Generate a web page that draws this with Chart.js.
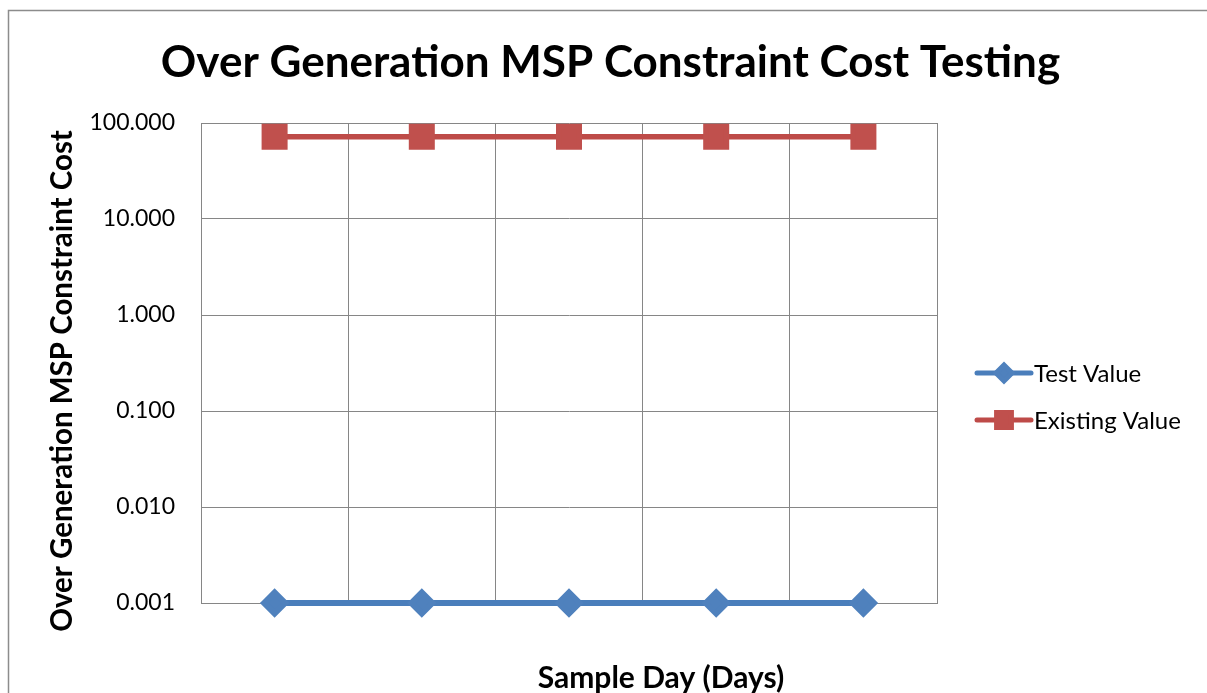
<!DOCTYPE html>
<html>
<head>
<meta charset="utf-8">
<script src="https://cdn.jsdelivr.net/npm/chart.js@4.4.0/dist/chart.umd.min.js"></script>
<style>
    html, body { margin: 0; padding: 0; background: #fff; }
    canvas { display: block; }
</style>
</head>
<body>
<canvas id="chart" width="1207" height="693"></canvas>
<script>
// values
const sampleDays = ['1', '2', '3', '4', '5']
const testValue = [0.001, 0.001, 0.001, 0.001, 0.001]
const existingValue = [72, 72, 72, 72, 72]
const yTicks = [0.001, 0.01, 0.1, 1, 10, 100]

const chartTitle = 'Over Generation MSP Constraint Cost Testing'
const xTitle = 'Sample Day (Days)'
const yTitle = 'Over Generation MSP Constraint Cost'

const gridColor = '#868686'
const fontFamily = 'Lato, "Open Sans", sans-serif'

// white background and the outer frame Excel draws round the chart
const frame = {
    id: 'frame',
    beforeDraw(chart) {
        const ctx = chart.ctx
        ctx.save()
        ctx.fillStyle = '#fff'
        ctx.fillRect(0, 0, chart.width, chart.height)
        ctx.strokeStyle = '#8c8c8c'
        ctx.lineWidth = 1.5
        ctx.strokeRect(8.5, 10.5, chart.width + 20, chart.height + 20)
        ctx.restore()
    }
}

// Excel places its titles against the whole chart box, not the plot area
const titles = {
    id: 'titles',
    afterDraw(chart) {
        const ctx = chart.ctx
        const area = chart.chartArea
        ctx.save()
        ctx.fillStyle = '#000'
        ctx.textAlign = 'center'
        ctx.textBaseline = 'middle'

        ctx.font = 'bold 44px ' + fontFamily
        ctx.fillText(chartTitle, chart.width / 2 + 7, 63)

        ctx.font = 'bold 30px ' + fontFamily
        ctx.fillText(xTitle, (area.left + area.right) / 2 + 92, area.bottom + 75)

        ctx.translate(62, (area.top + area.bottom) / 2 + 18)
        ctx.rotate(-Math.PI / 2)
        ctx.font = 'bold 29.5px ' + fontFamily
        ctx.fillText(yTitle, 0, 0)
        ctx.restore()
    }
}

// legend on the right: line with the marker in the middle, like Excel
const sideLegend = {
    id: 'sideLegend',
    afterDraw(chart) {
        const ctx = chart.ctx
        const area = chart.chartArea
        const cy = (area.top + area.bottom) / 2
        ctx.save()
        chart.data.datasets.forEach(function (ds, i) {
            const y = cy + 10 + i * 47
            const x0 = area.right + 40
            const x1 = area.right + 94
            ctx.strokeStyle = ds.borderColor
            ctx.lineWidth = 5
            ctx.lineCap = 'round'
            ctx.beginPath()
            ctx.moveTo(x0, y)
            ctx.lineTo(x1, y)
            ctx.stroke()
            ctx.fillStyle = ds.pointBackgroundColor
            ctx.strokeStyle = ds.pointBorderColor
            Chart.helpers.drawPoint(ctx, {
                pointStyle: ds.pointStyle,
                radius: ds.legendRadius,
                rotation: 0,
                borderWidth: 1
            }, (x0 + x1) / 2, y)
            ctx.fillStyle = '#000'
            ctx.font = '24px ' + fontFamily
            ctx.textBaseline = 'middle'
            ctx.textAlign = 'left'
            ctx.fillText(ds.label, x1 + 3, y + 1)
        })
        ctx.restore()
    }
}

new Chart(document.getElementById('chart'), {
    type: 'line',
    data: {
        labels: sampleDays,
        datasets: [{
            label: 'Test Value',
            data: testValue,
            clip: false,
            borderColor: '#4a7ebb',
            backgroundColor: '#4a7ebb',
            pointBackgroundColor: '#4f81bd',
            pointBorderColor: '#4f81bd',
            borderWidth: 6,
            pointStyle: 'rectRot',
            pointRadius: 10.5,
            pointHoverRadius: 10.5,
            legendRadius: 8,
        }, {
            label: 'Existing Value',
            data: existingValue,
            clip: false,
            borderColor: '#be4b48',
            backgroundColor: '#be4b48',
            pointBackgroundColor: '#c0504d',
            pointBorderColor: '#c0504d',
            borderWidth: 5.5,
            pointStyle: 'rect',
            pointRadius: 14.5,
            pointHoverRadius: 14.5,
            legendRadius: 10.5,
        }]
    },
    options: {
        responsive: false,
        animation: false,
        layout: {padding: {left: 0, right: 270, top: 123, bottom: 0}},
        plugins: {
            legend: {display: false},
            tooltip: {enabled: false},
            title: {display: false}
        },
        scales: {
            x: {
                type: 'category',
                offset: true,
                grid: {color: gridColor, offset: true, drawTicks: false},
                border: {color: gridColor},
                ticks: {display: false},
                afterFit(scale) { scale.height = 90 }
            },
            y: {
                type: 'logarithmic',
                min: 0.001,
                max: 100,
                grid: {color: gridColor, drawTicks: false},
                border: {color: gridColor},
                afterBuildTicks(scale) {
                    scale.ticks = yTicks.map(v => ({value: v}))
                },
                ticks: {
                    color: '#000',
                    padding: 26,
                    font: {family: fontFamily, size: 23},
                    callback: v => Number(v).toFixed(3)
                },
                afterFit(scale) { scale.width = 201 }
            }
        }
    },
    plugins: [frame, titles, sideLegend]
})
</script>
</body>
</html>
